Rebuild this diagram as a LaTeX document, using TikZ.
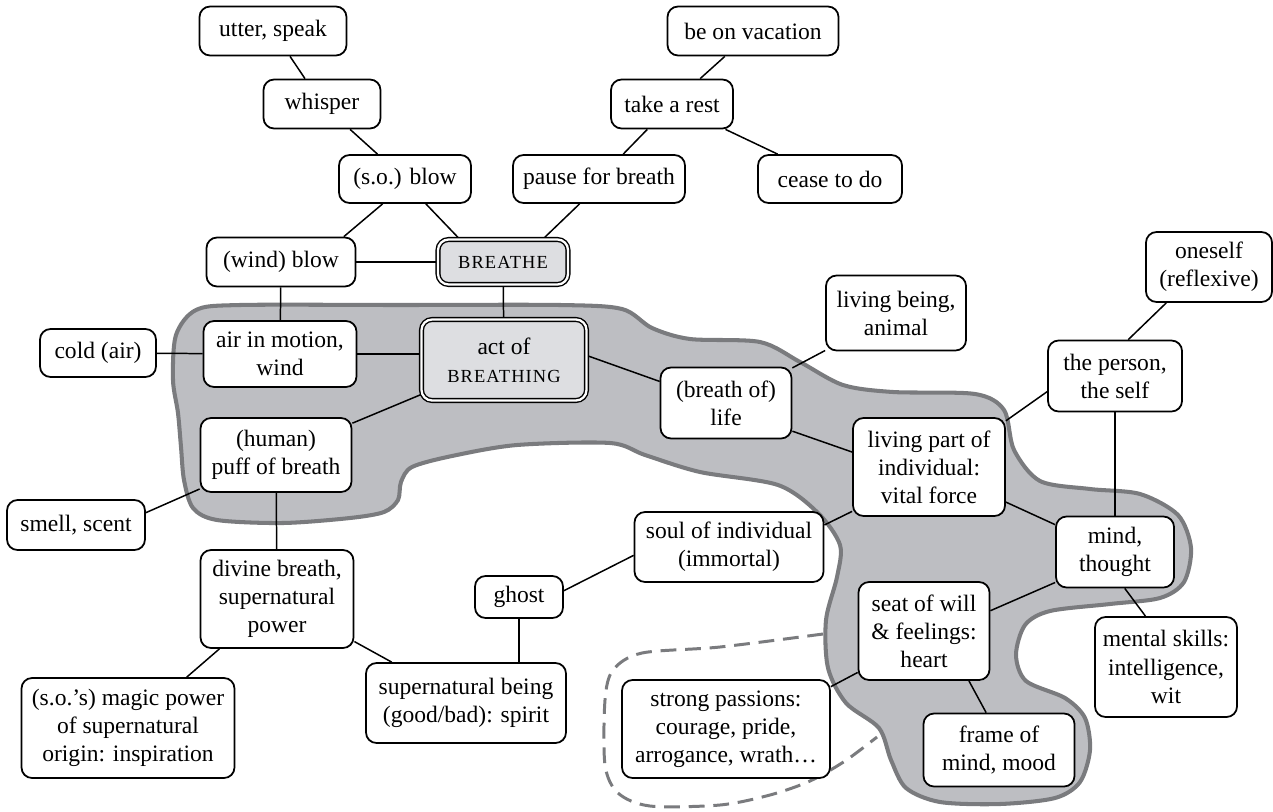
\documentclass[tikz,border=0pt]{standalone}
\usepackage{fontspec}
\setmainfont{Liberation Serif}
\usetikzlibrary{backgrounds}

\definecolor{blobgray}{RGB}{189,190,194}
\definecolor{rimgray}{RGB}{122,123,126}
\definecolor{coregray}{RGB}{221,222,225}

\newcommand{\sensefont}{\fontsize{13.4}{16}\selectfont}
\newcommand{\capsword}[1]{{\fontsize{10.5}{12}\selectfont\addfontfeature{LetterSpace=6}#1}}

\tikzset{
  sense/.style  ={draw=black, line width=1pt, rounded corners=6pt, fill=white, align=center,
                  inner xsep=2pt, inner ysep=0pt, font=\sensefont},
  core/.style   ={sense, fill=coregray, line width=0.8pt, double=white, double distance=1.3pt},
  boxsize/.style 2 args={minimum width=#1*0.02cm, minimum height=#2*0.02cm},
  blob/.style   ={fill=blobgray, draw=rimgray, line width=2.3pt},
  stretch/.style={draw=rimgray, line width=1.7pt, dash pattern=on 9pt off 5pt},
  link/.style   ={line width=0.85pt}
}

\begin{document}
\begin{tikzpicture}[x=0.02cm, y=-0.02cm]
    \useasboundingbox (0,0) rectangle (1273,811);

    % core senses
    \node[core, boxsize={130}{45}] (breathe) at (503,262) {\capsword{BREATHE}};
    \node[core, boxsize={165}{81}] (act) at (504,360) {act of\\\capsword{BREATHING}};

    % blowing and speaking
    \node[sense, boxsize={147}{49}] (utter) at (273,31) {utter, speak};
    \node[sense, boxsize={117}{49}] (whisper) at (322,104) {whisper};
    \node[sense, boxsize={132}{48}] (soblow) at (405,179) {(s.o.) blow};
    \node[sense, boxsize={149}{49}] (windblow) at (281,262) {(wind) blow};

    % resting
    \node[sense, boxsize={171}{49}] (vacation) at (753,31) {be on vacation};
    \node[sense, boxsize={122}{49}] (rest) at (672,104) {take a rest};
    \node[sense, boxsize={172}{48}] (pause) at (599,179) {pause for breath};
    \node[sense, boxsize={144}{48}] (cease) at (830,179) {cease to do};

    % air and breath
    \node[sense, boxsize={116}{48}] (cold) at (98,353) {cold (air)};
    \node[sense, boxsize={153}{66}] (air) at (280,354) {air in motion,\\wind};
    \node[sense, boxsize={151}{74}] (puff) at (276,455) {(human)\\puff of breath};
    \node[sense, boxsize={138}{50}] (smell) at (76,525) {smell, scent};

    % supernatural
    \node[sense, boxsize={153}{98}] (divine) at (277,599) {divine breath,\\supernatural\\power};
    \node[sense, boxsize={213}{100}] (magic) at (128,728) {(s.o.'s) magic power\\of supernatural\\origin: inspiration};
    \node[sense, boxsize={200}{80}] (spirit) at (466,703) {supernatural being\\(good/bad): spirit};
    \node[sense, boxsize={88}{42}] (ghost) at (519,597) {ghost};
    \node[sense, boxsize={189}{70}] (soul) at (729,547) {soul of individual\\(immortal)};

    % life and the self
    \node[sense, boxsize={131}{71}] (life) at (726,403) {(breath of)\\life};
    \node[sense, boxsize={140}{75}] (being) at (896,313) {living being,\\animal};
    \node[sense, boxsize={152}{98}] (vital) at (929,467) {living part of\\individual:\\vital force};
    \node[sense, boxsize={134}{71}] (person) at (1115,376) {the person,\\the self};
    \node[sense, boxsize={126}{70}] (oneself) at (1209,267) {oneself\\(reflexive)};

    % mind and heart
    \node[sense, boxsize={118}{71}] (mind) at (1115,552) {mind,\\thought};
    \node[sense, boxsize={142}{100}] (mental) at (1166,667) {mental skills:\\intelligence,\\wit};
    \node[sense, boxsize={131}{98}] (seat) at (924,631) {seat of will\\\& feelings:\\heart};
    \node[sense, boxsize={208}{98}] (passions) at (726,729) {strong passions:\\courage, pride,\\arrogance, wrath…};
    \node[sense, boxsize={151}{73}] (frame) at (999,750) {frame of\\mind, mood};

    \begin{scope}[on background layer]
    % shaded region of the physical and inner senses
    \draw[blob] plot[smooth cycle, tension=0.5] coordinates {
      (173,380) (176,335) (196,310) (240,305) (400,305) (560,305) (622,309) (652,328)
      (690,339) (760,342) (800,362) (843,385) (893,392) (975,394) (1004,410) (1014,450)
      (1040,481) (1090,489) (1140,494) (1178,515) (1191,548) (1184,582) (1160,598)
      (1110,604) (1050,611) (1025,625) (1016,655) (1026,681) (1065,698) (1085,718)
      (1090,750) (1080,782) (1055,798) (1000,804) (940,802) (906,788) (891,760)
      (879,728) (846,703) (828,668) (826,620) (837,577) (840,545) (818,513) (778,485)
      (700,472) (645,455) (610,443) (517,445) (452,456) (412,467) (401,482) (398,500)
      (384,512) (350,518) (283,523) (217,520) (193,508) (184,480) (181,447) (178,413)};

    % dashed extension round the passions
    \draw[stretch] plot[smooth, tension=0.5] coordinates {
      (823,634) (720,647) (642,653) (613,670) (605,700) (605,765) (618,793) (650,806)
      (720,805) (770,795) (810,781) (845,761) (877,737)};

    % links, upper left
    \draw[link] (utter) -- (whisper);
    \draw[link] (whisper) -- (soblow);
    \draw[link] (soblow.-132) -- (windblow.22);
    \draw[link] (soblow.-50) -- (breathe.152);
    \draw[link] (windblow) -- (breathe);
    \draw[link] (windblow) -- (air);
    \draw[link] (breathe) -- (act);

    % links, upper right
    \draw[link] (pause.-128) -- (breathe.30);
    \draw[link] (pause) -- (rest);
    \draw[link] (rest) -- (vacation);
    \draw[link] (rest) -- (cease);

    % links, left and bottom
    \draw[link] (cold) -- (air);
    \draw[link] (air) -- (air -| act.west);
    \draw[link] (act) -- (puff);
    \draw[link] (puff.-156) -- (smell.10);
    \draw[link] (puff) -- (divine);
    \draw[link] (divine) -- (magic);
    \draw[link] (divine) -- (spirit);
    \draw[link] (ghost) -- (ghost |- spirit.north);
    \draw[link] (soul.-175) -- (ghost.8);

    % links, right
    \draw[link] (act.3) -- (life.162);
    \draw[link] (life) -- (being);
    \draw[link] (life.-23) -- (vital.169);
    \draw[link] (vital.31) -- (person.-167);
    \draw[link] (person.70) -- (oneself.-140);
    \draw[link] (person) -- (mind);
    \draw[link] (vital.-150) -- (soul.13);
    \draw[link] (vital) -- (mind);
    \draw[link] (mind.-153) -- (seat.17);
    \draw[link] (mind.-75) -- (mental.112);
    \draw[link] (seat.-148) -- (passions.22);
    \draw[link] (seat.-48) -- (frame.109);
    \end{scope}
\end{tikzpicture}
\end{document}
